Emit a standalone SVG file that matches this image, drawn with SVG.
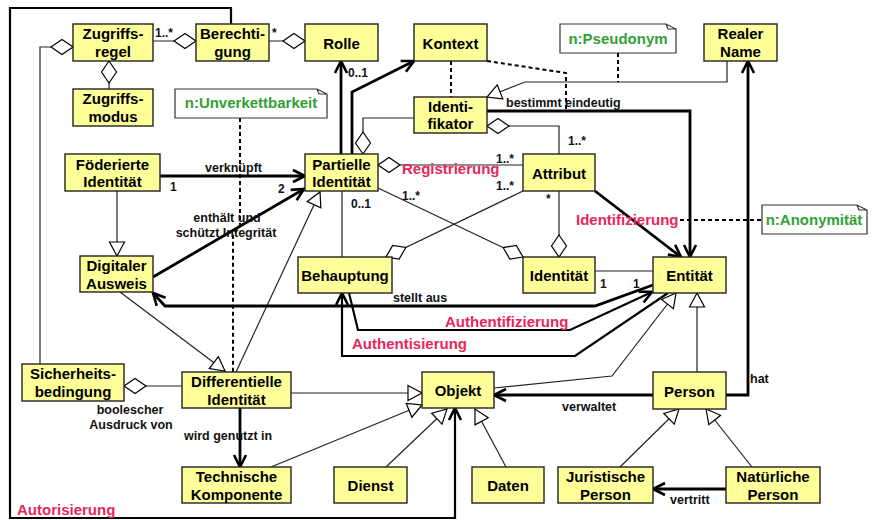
<svg xmlns="http://www.w3.org/2000/svg" width="873" height="520" viewBox="0 0 873 520">
<style>
text{font-family:"Liberation Sans",Arial,sans-serif;font-weight:bold}
.box rect{fill:#FFFF99;stroke:#222;stroke-width:1.4}
.box text{font-size:15px;fill:#000;text-anchor:middle}
.note path{fill:#fff;stroke:#333;stroke-width:1.2}
.note text{font-size:15px;fill:#33A033;text-anchor:middle}
.thin{fill:none;stroke:#222;stroke-width:1.2}
.dash{fill:none;stroke:#000;stroke-width:2;stroke-dasharray:4,3}
.thick{fill:none;stroke:#000;stroke-width:2.8}
.med{fill:none;stroke:#000;stroke-width:2.2}
.lbl{font-size:12.5px;fill:#111}
.mul{font-size:12px;fill:#111}
.red{font-size:15px;fill:#E8265A}
</style>
<defs>
<marker id="arr" markerUnits="userSpaceOnUse" markerWidth="16" markerHeight="16" refX="14" refY="8" orient="auto" overflow="visible"><path d="M2,2 L14,8 L2,14" fill="none" stroke="#000" stroke-width="2.6"/></marker>
<marker id="gen" markerUnits="userSpaceOnUse" markerWidth="16" markerHeight="16" refX="14" refY="7.5" orient="auto" overflow="visible"><path d="M0,0 L14,7.5 L0,15 Z" fill="#fff" stroke="#000" stroke-width="1.2"/></marker>
<marker id="dia" markerUnits="userSpaceOnUse" markerWidth="24" markerHeight="16" refX="0" refY="7.5" orient="auto" overflow="visible"><path d="M0,7.5 L11,0 L22,7.5 L11,15 Z" fill="#fff" stroke="#000" stroke-width="1.2"/></marker>
</defs>

<g id="connectors">
<path class="thin" d="M196,41 H153" marker-start="url(#dia)"/>
<path class="thin" d="M305,41 H269" marker-start="url(#dia)"/>
<path class="thin" d="M109,61 V89" marker-start="url(#dia)"/>
<path class="thin" d="M73,47 H40 V364" marker-start="url(#dia)"/>
<path class="thin" d="M124,386 H182" marker-start="url(#dia)"/>
<path class="thin" d="M363,154 V118 H414" marker-start="url(#dia)"/>
<path class="thin" d="M487,126 H559 V154" marker-start="url(#dia)"/>
<path class="thin" d="M378,165 H523" marker-start="url(#dia)"/>
<path class="thin" d="M386,257 L523,191" marker-start="url(#dia)"/>
<path class="thin" d="M523,257 L378,188" marker-start="url(#dia)"/>
<path class="thin" d="M559,257 V191" marker-start="url(#dia)"/>
<path class="thin" d="M342,191 V257"/>
<path class="thin" d="M595,271 H653"/>
<path class="thin" d="M117,191 V256" marker-end="url(#gen)"/>
<path class="thin" d="M120,292 L225,371" marker-end="url(#gen)"/>
<path class="thin" d="M236,372 L320,192" marker-end="url(#gen)"/>
<path class="thin" d="M271,467 L422,405" marker-end="url(#gen)"/>
<path class="thin" d="M291,393 H422" marker-end="url(#gen)"/>
<path class="thin" d="M386,467 L447,409" marker-end="url(#gen)"/>
<path class="thin" d="M506,467 L475,409" marker-end="url(#gen)"/>
<path class="thin" d="M494,388 L612,376 L676,293" marker-end="url(#gen)"/>
<path class="thin" d="M697,372 V293" marker-end="url(#gen)"/>
<path class="thin" d="M620,467 L679,409" marker-end="url(#gen)"/>
<path class="thin" d="M752,467 L706,409" marker-end="url(#gen)"/>
<path class="thin" d="M727,61 V82 H525 L487,97" marker-end="url(#gen)"/>
<path class="dash" d="M240,118 V225 L233,235 V372"/>
<path class="dash" d="M451,61 V97"/>
<path class="dash" d="M487,61 L566,73 V111"/>
<path class="dash" d="M618,53 V82"/>
<path class="dash" d="M680,220 H762"/>
<path class="thick" d="M160,176 H305" marker-end="url(#arr)"/>
<path class="thick" d="M153,277 L304,189" marker-end="url(#arr)"/>
<path class="thick" d="M240,408 V467" marker-end="url(#arr)"/>
<path class="thick" d="M653,395 H494" marker-end="url(#arr)"/>
<path class="thick" d="M726,395 H748 V61" marker-end="url(#arr)"/>
<path class="thick" d="M726,489 H653" marker-end="url(#arr)"/>
<path class="thick" d="M487,111 H690 V257" marker-end="url(#arr)"/>
<path class="thick" d="M341,154 V61" marker-end="url(#arr)"/>
<path class="thick" d="M352,154 V92 L414,61" marker-end="url(#arr)"/>
<path class="thick" d="M595,191 L681,257" marker-end="url(#arr)"/>
<path class="thick" d="M653,285 L595,306 H165 L153,293" marker-end="url(#arr)"/>
<path class="med" d="M349,293 L358,330 H570 L652,292" marker-end="url(#arr)"/>
<path class="med" d="M668,293 L575,356 H342 V293" marker-end="url(#arr)"/>
<path class="med" d="M231,24 V8 H10 V518 H455 V408" marker-end="url(#arr)"/>
</g>

<g id="labels">
<text class="mul" x="155" y="37">1..*</text>
<text class="mul" x="272" y="37">*</text>
<text class="mul" x="348" y="77">0..1</text>
<text class="mul" x="568" y="145">1..*</text>
<text class="mul" x="496" y="163">1..*</text>
<text class="mul" x="496" y="190">1..*</text>
<text class="mul" x="402" y="200">1..*</text>
<text class="mul" x="351" y="208">0..1</text>
<text class="mul" x="546" y="203">*</text>
<text class="mul" x="170" y="191">1</text>
<text class="mul" x="278" y="193">2</text>
<text class="mul" x="600" y="288">1</text>
<text class="mul" x="633" y="288">1</text>
<text class="lbl" x="205" y="172">verknüpft</text>
<text class="lbl" x="227" y="222" text-anchor="middle">enthält und</text>
<text class="lbl" x="226" y="237" text-anchor="middle">schützt Integrität</text>
<text class="lbl" x="130" y="414" text-anchor="middle">boolescher</text>
<text class="lbl" x="131" y="429" text-anchor="middle">Ausdruck von</text>
<text class="lbl" x="184" y="440">wird genutzt in</text>
<text class="lbl" x="393" y="302">stellt aus</text>
<text class="lbl" x="562" y="411">verwaltet</text>
<text class="lbl" x="750" y="383">hat</text>
<text class="lbl" x="670" y="504">vertritt</text>
<text class="lbl" x="506" y="107">bestimmt eindeutig</text>
<text class="red" x="402" y="174">Registrierung</text>
<text class="red" x="576" y="225">Identifizierung</text>
<text class="red" x="445" y="327">Authentifizierung</text>
<text class="red" x="352" y="349">Authentisierung</text>
<text class="red" x="17" y="515">Autorisierung</text>
</g>

<g id="n-unverkettbarkeit" class="note"><path d="M175,89 H317 L327,94 V118 H175 Z M317,89 L319,94 H327"/><text x="251" y="108">n:Unverkettbarkeit</text></g>
<g id="n-pseudonym" class="note"><path d="M560,24 H666 L676,29 V53 H560 Z M666,24 L668,29 H676"/><text x="618" y="44">n:Pseudonym</text></g>
<g id="n-anonymitaet" class="note"><path d="M762,205 H857 L867,210 V234 H762 Z M857,205 L859,210 H867"/><text x="814" y="225">n:Anonymität</text></g>

<g id="zugriffsregel" class="box"><rect x="73" y="24" width="80" height="37"/><text x="113" y="38.5">Zugriffs-</text><text x="113" y="56.5">regel</text></g>
<g id="berechtigung" class="box"><rect x="196" y="24" width="73" height="37"/><text x="232.5" y="38.5">Berechti-</text><text x="232.5" y="56.5">gung</text></g>
<g id="rolle" class="box"><rect x="305" y="24" width="73" height="37"/><text x="341.5" y="48.5">Rolle</text></g>
<g id="kontext" class="box"><rect x="414" y="24" width="73" height="37"/><text x="450.5" y="48.5">Kontext</text></g>
<g id="realer-name" class="box"><rect x="704" y="24" width="73" height="37"/><text x="740.5" y="38.5">Realer</text><text x="740.5" y="56.5">Name</text></g>
<g id="zugriffsmodus" class="box"><rect x="73" y="89" width="80" height="37"/><text x="113" y="103.5">Zugriffs-</text><text x="113" y="121.5">modus</text></g>
<g id="identifikator" class="box"><rect x="414" y="97" width="73" height="36"/><text x="450.5" y="111.5">Identi-</text><text x="450.5" y="129">fikator</text></g>
<g id="foederierte-identitaet" class="box"><rect x="65" y="154" width="95" height="37"/><text x="112.5" y="169.5">Föderierte</text><text x="112.5" y="187">Identität</text></g>
<g id="partielle-identitaet" class="box"><rect x="305" y="154" width="73" height="37"/><text x="341.5" y="169.5">Partielle</text><text x="341.5" y="187">Identität</text></g>
<g id="attribut" class="box"><rect x="523" y="154" width="72" height="37"/><text x="559" y="178.5">Attribut</text></g>
<g id="digitaler-ausweis" class="box"><rect x="80" y="256" width="73" height="36"/><text x="116.5" y="271">Digitaler</text><text x="116.5" y="288.5">Ausweis</text></g>
<g id="behauptung" class="box"><rect x="298" y="257" width="94" height="36"/><text x="345" y="281">Behauptung</text></g>
<g id="identitaet" class="box"><rect x="523" y="257" width="72" height="36"/><text x="559" y="281">Identität</text></g>
<g id="entitaet" class="box"><rect x="653" y="257" width="73" height="36"/><text x="689.5" y="281">Entität</text></g>
<g id="sicherheitsbedingung" class="box"><rect x="22" y="364" width="102" height="37"/><text x="73" y="379">Sicherheits-</text><text x="73" y="396.5">bedingung</text></g>
<g id="differentielle-identitaet" class="box"><rect x="182" y="372" width="109" height="36"/><text x="236.5" y="387">Differentielle</text><text x="236.5" y="404.5">Identität</text></g>
<g id="objekt" class="box"><rect x="422" y="372" width="72" height="36"/><text x="458" y="396">Objekt</text></g>
<g id="person" class="box"><rect x="653" y="372" width="73" height="37"/><text x="689.5" y="396.5">Person</text></g>
<g id="technische-komponente" class="box"><rect x="182" y="467" width="109" height="36"/><text x="236.5" y="482">Technische</text><text x="236.5" y="499.5">Komponente</text></g>
<g id="dienst" class="box"><rect x="334" y="467" width="73" height="36"/><text x="370.5" y="491">Dienst</text></g>
<g id="daten" class="box"><rect x="472" y="467" width="72" height="36"/><text x="508" y="491">Daten</text></g>
<g id="juristische-person" class="box"><rect x="558" y="467" width="95" height="36"/><text x="605.5" y="482">Juristische</text><text x="605.5" y="499.5">Person</text></g>
<g id="natuerliche-person" class="box"><rect x="726" y="467" width="94" height="36"/><text x="773" y="482">Natürliche</text><text x="773" y="499.5">Person</text></g>
</svg>
